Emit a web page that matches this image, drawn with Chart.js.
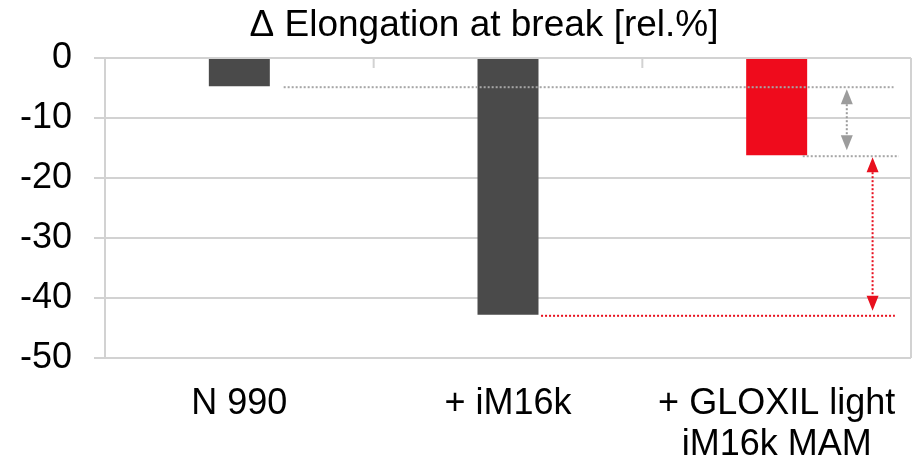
<!DOCTYPE html>
<html>
<head>
<meta charset="utf-8">
<title>Elongation at break</title>
<script src="https://cdn.jsdelivr.net/npm/chart.js@4.4.1/dist/chart.umd.min.js"></script>
<style>
    html, body { margin: 0; padding: 0; background: #ffffff; }
    #wrap { width: 913px; height: 463px; }
</style>
</head>
<body>
<div id="wrap"><canvas id="elongationChart"></canvas></div>
<script>
// Chart data
const categories = ['N 990', '+ iM16k', ['+ GLOXIL light', 'iM16k MAM']];
const elongation = [-4.7, -42.8, -16.2];
const barColors = ['#4a4a4a', '#4a4a4a', '#ef0b1c'];
const yTicks = [0, -10, -20, -30, -40, -50];
const chartTitle = '\u0394 Elongation at break [rel.%]';

const fontFamily = '"Liberation Sans", Arial, sans-serif';
const gridColor = '#d2d2d2';

// Draws the title, the plot frame, the small category ticks at 0 and the dotted comparison lines
const overlay = {
    id: 'overlay',
    afterDatasetsDraw(chart) {
        const ctx = chart.ctx;
        const area = chart.chartArea;
        const x = chart.scales.x;
        const y = chart.scales.y;
        const step = x.getPixelForValue(1) - x.getPixelForValue(0);
        const px = (i, f) => x.getPixelForValue(i) + f * step;

        ctx.save();

        // right border of the plot area
        ctx.strokeStyle = gridColor;
        ctx.lineWidth = 2;
        ctx.beginPath();
        ctx.moveTo(area.right, area.top);
        ctx.lineTo(area.right, area.bottom);
        ctx.stroke();

        // category tick marks on the zero line
        const zero = y.getPixelForValue(0);
        for (let i = 0; i < categories.length - 1; i++) {
            const bx = px(i, 0.5);
            ctx.beginPath();
            ctx.moveTo(bx, zero);
            ctx.lineTo(bx, zero + 10);
            ctx.stroke();
        }

        // dotted level lines
        function dotted(x1, x2, yv, color) {
            ctx.strokeStyle = color;
            ctx.lineWidth = 2;
            ctx.setLineDash([2, 2]);
            ctx.beginPath();
            ctx.moveTo(x1, y.getPixelForValue(yv) + 1);
            ctx.lineTo(x2, y.getPixelForValue(yv) + 1);
            ctx.stroke();
            ctx.setLineDash([]);
        }

        // double-headed dotted arrow
        function arrow(ax, y1, y2, color) {
            const head = 15, half = 6;
            ctx.strokeStyle = color;
            ctx.fillStyle = color;
            ctx.lineWidth = 2;
            ctx.setLineDash([2, 2]);
            ctx.beginPath();
            ctx.moveTo(ax, y1 + head);
            ctx.lineTo(ax, y2 - head);
            ctx.stroke();
            ctx.setLineDash([]);
            ctx.beginPath();
            ctx.moveTo(ax, y1);
            ctx.lineTo(ax - half, y1 + head);
            ctx.lineTo(ax + half, y1 + head);
            ctx.closePath();
            ctx.fill();
            ctx.beginPath();
            ctx.moveTo(ax, y2);
            ctx.lineTo(ax - half, y2 - head);
            ctx.lineTo(ax + half, y2 - head);
            ctx.closePath();
            ctx.fill();
        }

        dotted(px(0, 0.165), px(2, 0.435), elongation[0], '#a6a6a6');
        dotted(px(2, 0.097), px(2, 0.455), elongation[2], '#a6a6a6');
        dotted(px(1, 0.123), px(2, 0.44), elongation[1], '#e8101e');

        arrow(px(2, 0.261), y.getPixelForValue(elongation[0]) + 3, y.getPixelForValue(elongation[2]) - 5, '#9c9c9c');
        arrow(px(2, 0.357), y.getPixelForValue(elongation[2]) + 2, y.getPixelForValue(elongation[1]) - 4, '#e8101e');

        // title
        ctx.fillStyle = '#000000';
        ctx.font = '37px ' + fontFamily;
        ctx.textAlign = 'center';
        ctx.textBaseline = 'alphabetic';
        ctx.fillText(chartTitle, (area.left + area.right) / 2 - 24, 36);

        ctx.restore();
    }
};

const ctx = document.getElementById('elongationChart');
const elongationChart = new Chart(ctx, {
    type: 'bar',
    data: {
        labels: categories,
        datasets: [{
            data: elongation,
            backgroundColor: barColors,
            borderWidth: 0,
            categoryPercentage: 1,
            barPercentage: 0.227
        }]
    },
    options: {
        responsive: true,
        maintainAspectRatio: false,
        animation: false,
        layout: {
            padding: { top: 58, right: 2, left: 0, bottom: 0 }
        },
        plugins: {
            legend: { display: false },
            title: { display: false },
            tooltip: { enabled: false }
        },
        scales: {
            x: {
                grid: { display: false, drawTicks: false },
                border: { display: false },
                ticks: {
                    color: '#000000',
                    padding: 25,
                    maxRotation: 0,
                    autoSkip: false,
                    font: { family: fontFamily, size: 36, lineHeight: 1.15 }
                },
                afterFit(scale) {
                    scale.height = 105;
                    scale.paddingLeft = 0;
                    scale.paddingRight = 0;
                }
            },
            y: {
                min: -50,
                max: 0,
                afterBuildTicks(scale) {
                    scale.ticks = yTicks.map(v => ({ value: v }));
                },
                grid: {
                    color: gridColor,
                    lineWidth: 2,
                    tickLength: 11,
                    tickColor: gridColor
                },
                border: { display: true, color: gridColor, width: 2 },
                ticks: {
                    color: '#000000',
                    padding: 22,
                    font: { family: fontFamily, size: 36 }
                },
                afterFit(scale) {
                    scale.width = 105;
                }
            }
        }
    },
    plugins: [overlay]
});
</script>
</body>
</html>
